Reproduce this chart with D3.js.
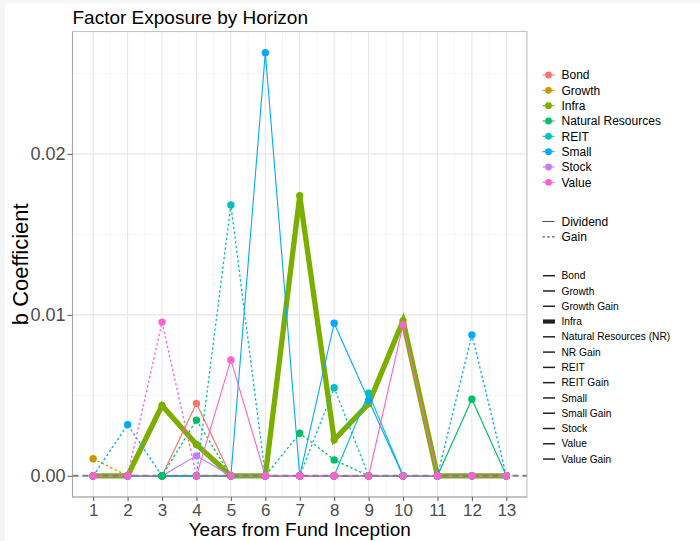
<!DOCTYPE html>
<html>
<head>
<meta charset="utf-8">
<script src="https://cdn.jsdelivr.net/npm/d3@7"></script>
<style>
  body { margin: 0; background: #fff; }
  text { font-family: "Liberation Sans", Arial, sans-serif; }
</style>
</head>
<body>
<div id="root"></div>
<script>
// years on the x axis
const years = [1, 2, 3, 4, 5, 6, 7, 8, 9, 10, 11, 12, 13];

// coefficient series, one value per year (null = no estimate)
const bond = [0, 0, 0, 0.0045, 0, 0, 0, 0, 0, 0, 0, 0, 0];
const growth = [0, 0, 0, 0, 0, 0, 0, 0, 0, 0, 0, 0, 0];
const growthGain = [0.00106, 0, 0, 0, 0, 0, 0, 0, 0, 0, 0, 0, 0];
const infra = [0, 0, 0.00437, 0.00195, 0, 0, 0.0174, 0.00224, 0.00448, 0.00963, 0, 0, 0];
const natRes = [0, 0, 0, 0, 0, 0, 0, 0, 0, 0, 0, 0.00476, 0];
const nrGain = [0, 0, 0, 0.00346, 0, 0, 0.00265, 0.00099, 0, 0, 0, 0, 0];
const reit = [0, 0, 0, 0, 0, 0, 0, 0, 0.00514, 0, 0, 0, 0];
const reitGain = [0, 0, 0, 0, 0.01683, 0, 0, 0.00547, 0, 0, 0, 0, 0];
const small = [0, 0, 0, 0, 0, 0.02629, 0, 0.00948, 0.0047, 0, 0, 0, 0];
const smallGain = [0, 0.00317, 0, 0, 0, 0, 0, 0, 0, 0, 0, 0.00876, 0];
const stock = [0, 0, 0, 0.00124, 0, 0, 0, 0, 0, 0, 0, 0, 0];
const value = [0, 0, null, 0, 0.0072, 0, 0, 0, 0, 0.00938, 0, 0, 0];
const valueGain = [0, 0, 0.00955, 0, 0, 0, 0, 0, 0, 0, 0, 0, 0];

const seriesNames = ["Bond", "Growth", "Growth Gain", "Infra", "Natural Resources (NR)", "NR Gain",
  "REIT", "REIT Gain", "Small", "Small Gain", "Stock", "Value", "Value Gain"];
const seriesFactor = ["Bond", "Growth", "Growth", "Infra", "Natural Resources", "Natural Resources",
  "REIT", "REIT", "Small", "Small", "Stock", "Value", "Value"];
const seriesType = ["Dividend", "Dividend", "Gain", "Dividend", "Dividend", "Gain",
  "Dividend", "Gain", "Dividend", "Gain", "Dividend", "Dividend", "Gain"];
const seriesValues = [bond, growth, growthGain, infra, natRes, nrGain,
  reit, reitGain, small, smallGain, stock, value, valueGain];

const factors = ["Bond", "Growth", "Infra", "Natural Resources", "REIT", "Small", "Stock", "Value"];
const factorColors = ["#F8766D", "#CD9600", "#7CAE00", "#00BE67", "#00BFC4", "#00A9FF", "#C77CFF", "#FF61CC"];
const types = ["Dividend", "Gain"];
const yTicks = [0, 0.01, 0.02];

// order in which points are stacked
const pointOrder = ["Bond", "Growth", "Growth Gain", "Infra", "REIT", "REIT Gain", "Small", "Small Gain",
  "Stock", "Natural Resources (NR)", "NR Gain", "Value", "Value Gain"];

const series = seriesNames.map((name, i) => ({
  name,
  factor: seriesFactor[i],
  type: seriesType[i],
  values: years.map((yr, j) => ({ year: yr, v: seriesValues[i][j] })),
}));

const width = 700;
const height = 541;
const panel = { left: 72.5, right: 527, top: 31.5, bottom: 497 };

const svg = d3.select("#root")
  .append("svg")
  .attr("width", width)
  .attr("height", height)
  .attr("viewBox", `0 0 ${width} ${height}`);

svg.append("rect").attr("width", width).attr("height", height).attr("fill", "#fff");
// light frame strip of the screenshot
svg.append("rect").attr("width", width).attr("height", 3.5).attr("fill", "#f6f6f6");
svg.append("rect").attr("width", 5).attr("height", height).attr("fill", "#f6f6f6");

const color = d3.scaleOrdinal(factors, factorColors);
const dash = d3.scaleOrdinal(types, [null, "2.4,2.4"]);

const xScale = d3.scaleLinear().domain([0.4, 13.6]).range([panel.left, panel.right]);
const yScale = d3.scaleLinear().domain([-0.001315, 0.027605]).range([panel.bottom, panel.top]);

// grid
const grid = svg.append("g");
const xMinor = d3.range(1.5, 13, 1);
const yMinor = [0.005, 0.015, 0.025];
grid.selectAll(".xmin").data(xMinor).join("line")
  .attr("x1", (d) => xScale(d)).attr("x2", (d) => xScale(d))
  .attr("y1", panel.top).attr("y2", panel.bottom)
  .attr("stroke", "#f2f2f2").attr("stroke-width", 0.8);
grid.selectAll(".ymin").data(yMinor).join("line")
  .attr("y1", (d) => yScale(d)).attr("y2", (d) => yScale(d))
  .attr("x1", panel.left).attr("x2", panel.right)
  .attr("stroke", "#f2f2f2").attr("stroke-width", 0.8);
grid.selectAll(".xmaj").data(years).join("line")
  .attr("x1", (d) => xScale(d)).attr("x2", (d) => xScale(d))
  .attr("y1", panel.top).attr("y2", panel.bottom)
  .attr("stroke", "#e6e6e6").attr("stroke-width", 1.1);
grid.selectAll(".ymaj").data(yTicks).join("line")
  .attr("y1", (d) => yScale(d)).attr("y2", (d) => yScale(d))
  .attr("x1", panel.left).attr("x2", panel.right)
  .attr("stroke", "#e6e6e6").attr("stroke-width", 1.1);

// lines
const line = d3.line()
  .defined((d) => d.v !== null)
  .x((d) => xScale(d.year))
  .y((d) => yScale(d.v));

const lineOrder = [series[3]].concat(series.filter((s) => s.name !== "Infra"));
svg.append("g")
  .selectAll("path")
  .data(lineOrder)
  .join("path")
  .attr("d", (d) => line(d.values))
  .attr("fill", "none")
  .attr("stroke", (d) => color(d.factor))
  .attr("stroke-width", (d) => (d.name === "Infra" ? 5.3 : d.type === "Gain" ? 1.3 : 1.1))
  .attr("stroke-dasharray", (d) => dash(d.type));

// zero reference line
svg.append("line")
  .attr("x1", panel.left).attr("x2", panel.right)
  .attr("y1", yScale(0)).attr("y2", yScale(0))
  .attr("stroke", "#7f7f7f").attr("stroke-width", 2)
  .attr("stroke-dasharray", "6,4");

// points
const pts = pointOrder
  .map((n) => series.find((s) => s.name === n))
  .flatMap((s) => s.values.filter((d) => d.v !== null).map((d) => ({ ...d, factor: s.factor })));
svg.append("g")
  .selectAll("circle")
  .data(pts)
  .join("circle")
  .attr("cx", (d) => xScale(d.year))
  .attr("cy", (d) => yScale(d.v))
  .attr("r", 3.7)
  .attr("fill", (d) => color(d.factor));

// panel border
svg.append("rect")
  .attr("x", panel.left).attr("y", panel.top)
  .attr("width", panel.right - panel.left).attr("height", panel.bottom - panel.top)
  .attr("fill", "none").attr("stroke", "#c4c4c4").attr("stroke-width", 1.1);
svg.append("path")
  .attr("d", `M${panel.left},${panel.top}V${panel.bottom}H${panel.right}`)
  .attr("fill", "none").attr("stroke", "#a8a8a8").attr("stroke-width", 1.1);

// axes
const bottomAxis = d3.axisBottom(xScale).tickValues(years).tickSize(4).tickPadding(3);
const gx = svg.append("g")
  .attr("transform", `translate(0, ${panel.bottom})`)
  .call(bottomAxis);
const leftAxis = d3.axisLeft(yScale).tickValues(yTicks).tickFormat(d3.format(".2f")).tickSize(5).tickPadding(2);
const gy = svg.append("g")
  .attr("transform", `translate(${panel.left}, 0)`)
  .call(leftAxis);

[gx, gy].forEach((g) => {
  g.select(".domain").remove();
  g.selectAll(".tick line").attr("stroke", "#666").attr("stroke-width", 1.1);
  g.selectAll(".tick text").attr("fill", "#4d4d4d").style("font-family", '"Liberation Sans", Arial, sans-serif');
});
gx.selectAll(".tick text").style("font-size", "17px");
gy.selectAll(".tick text").style("font-size", "18px");

// titles
svg.append("text")
  .attr("x", panel.left).attr("y", 24)
  .style("font-size", "19px").attr("fill", "#000")
  .text("Factor Exposure by Horizon");
svg.append("text")
  .attr("x", (panel.left + panel.right) / 2).attr("y", 536)
  .attr("text-anchor", "middle")
  .style("font-size", "19px").attr("fill", "#000")
  .text("Years from Fund Inception");
svg.append("text")
  .attr("transform", `translate(28, ${(panel.top + panel.bottom) / 2}) rotate(-90)`)
  .attr("text-anchor", "middle")
  .style("font-size", "22px").attr("fill", "#000")
  .text("b Coefficient");

// legend: colour
const legColor = svg.append("g");
const lc = legColor.selectAll("g").data(factors).join("g")
  .attr("transform", (d, i) => `translate(0, ${75 + i * 15.33})`);
lc.append("line").attr("x1", 542.5).attr("x2", 554.5)
  .attr("stroke", (d) => color(d)).attr("stroke-width", 1.1);
lc.append("circle").attr("cx", 548.5).attr("r", 3.4).attr("fill", (d) => color(d));
lc.append("text").attr("x", 561.5).attr("dy", "0.35em")
  .style("font-size", "12px").attr("fill", "#000").text((d) => d);

// legend: linetype
const lt = svg.append("g").selectAll("g").data(types).join("g")
  .attr("transform", (d, i) => `translate(0, ${221.5 + i * 15.33})`);
lt.append("line").attr("x1", 542.5).attr("x2", 554.5)
  .attr("stroke", "#555").attr("stroke-width", 1.1)
  .attr("stroke-dasharray", (d) => dash(d));
lt.append("text").attr("x", 561.5).attr("dy", "0.35em")
  .style("font-size", "12px").attr("fill", "#000").text((d) => d);

// legend: series size
const ls = svg.append("g").selectAll("g").data(seriesNames).join("g")
  .attr("transform", (d, i) => `translate(0, ${275.7 + i * 15.28})`);
ls.append("line").attr("x1", 543).attr("x2", 555)
  .attr("stroke", "#222").attr("stroke-width", (d) => (d === "Infra" ? 4.2 : 1.5));
ls.append("text").attr("x", 561.5).attr("dy", "0.35em")
  .style("font-size", "10.2px").attr("fill", "#000").text((d) => d);
</script>
</body>
</html>
